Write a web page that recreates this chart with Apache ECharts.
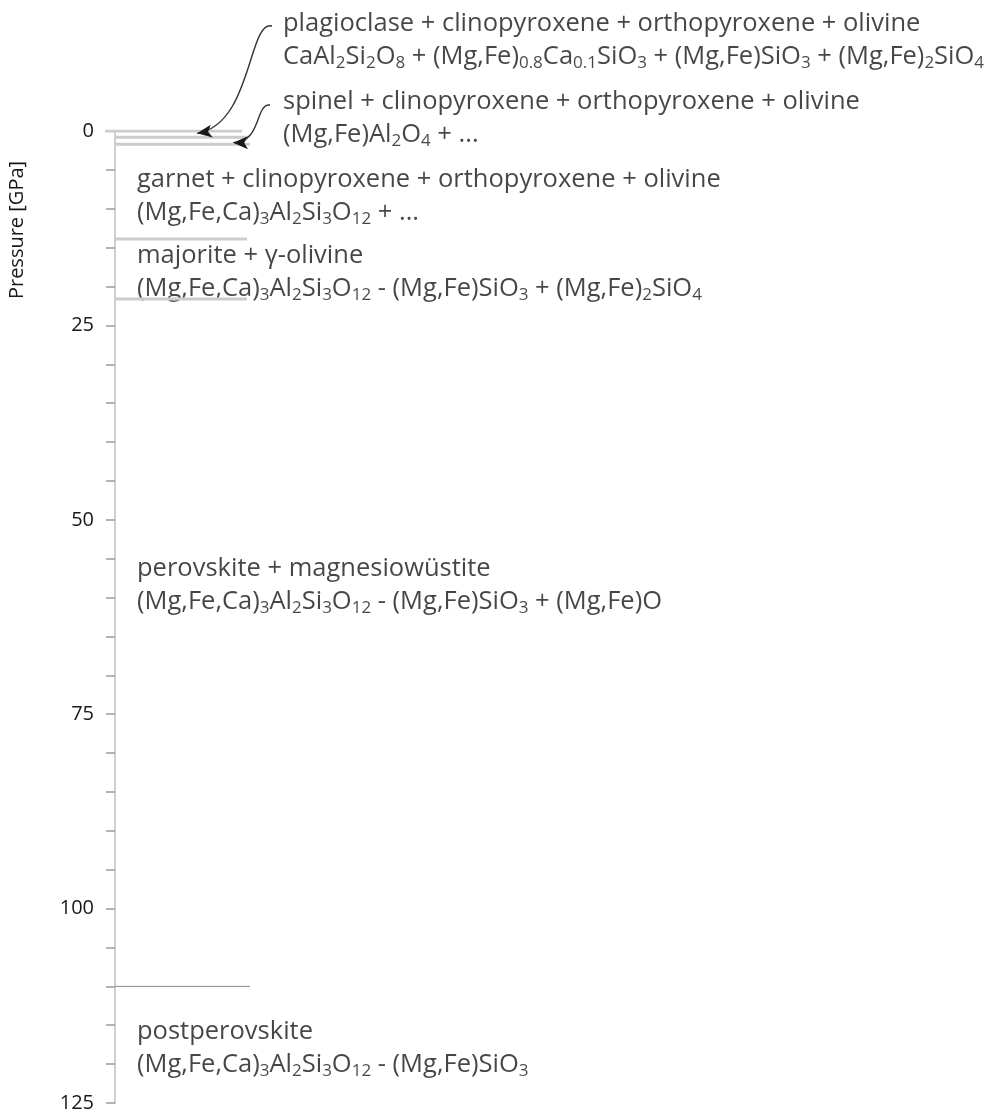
<!DOCTYPE html>
<html><head><meta charset="utf-8">
<script src="https://cdn.jsdelivr.net/npm/echarts@6/dist/echarts.min.js"></script>
<style>html,body{margin:0;padding:0;background:#fff}#c{width:1003px;height:1115px}</style>
</head><body><div id="c"></div>
<script>
// ---- data ----
const yTickValues = [0, 25, 50, 75, 100, 125];
const phaseBoundaries = [0, 0.8, 1.7, 13.9, 21.6];   // GPa, light gray lines
const deepBoundary = [110];                          // GPa, perovskite -> postperovskite
const phaseNames = [
  "plagioclase + clinopyroxene + orthopyroxene + olivine",
  "spinel + clinopyroxene + orthopyroxene + olivine",
  "garnet + clinopyroxene + orthopyroxene + olivine",
  "majorite + γ-olivine",
  "perovskite + magnesiowüstite",
  "postperovskite"
];
const phaseFormulas = [
  "CaAl_{2}Si_{2}O_{8} + (Mg,Fe)_{0.8}Ca_{0.1}SiO_{3} + (Mg,Fe)SiO_{3} + (Mg,Fe)_{2}SiO_{4}",
  "(Mg,Fe)Al_{2}O_{4} + ...",
  "(Mg,Fe,Ca)_{3}Al_{2}Si_{3}O_{12} + ...",
  "(Mg,Fe,Ca)_{3}Al_{2}Si_{3}O_{12} - (Mg,Fe)SiO_{3} + (Mg,Fe)_{2}SiO_{4}",
  "(Mg,Fe,Ca)_{3}Al_{2}Si_{3}O_{12} - (Mg,Fe)SiO_{3} + (Mg,Fe)O",
  "(Mg,Fe,Ca)_{3}Al_{2}Si_{3}O_{12} - (Mg,Fe)SiO_{3}"
];
const labelPressure = [-11.7, -1.6, 8.4, 18.1, 58.4, 117.9];
const arrowTipPressure = [0.3, 1.5];

// ---- layout ----
const FONT = "Open Sans";
const INK = "#1a1718";
const labelX = [168, 168, 22, 22, 22, 22];
const lineEnd = 132, deepLineEnd = 135;

function toRich(str) {
  let out = '', re = /_\{([^}]*)\}/g, last = 0, m;
  while ((m = re.exec(str))) {
    if (m.index > last) out += '{t|' + str.slice(last, m.index) + '}';
    out += '{s|' + m[1] + '}';
    last = re.lastIndex;
  }
  if (last < str.length) out += '{t|' + str.slice(last) + '}';
  return out;
}

const boundaryData = [];
phaseBoundaries.forEach((p, i) => {
  boundaryData.push([i === 0 ? -10 : 0, p], [i === 0 ? lineEnd - 5 : (i === 2 ? lineEnd + 3 : lineEnd), p], '-');
});
const deepData = [];
deepBoundary.forEach(p => { deepData.push([0, p], [deepLineEnd, p], '-'); });

const labelData = phaseNames.map((n, i) => ({
  value: [labelX[i], labelPressure[i]],
  label: { formatter: '{t|' + n + '}\n' + toRich(phaseFormulas[i]) }
}));

const chart = echarts.init(document.getElementById('c'));
chart.setOption({
  animation: false,
  backgroundColor: '#fff',
  grid: { left: 105, top: 131, width: 850, height: 972, containLabel: false },
  xAxis: { type: 'value', min: -10, max: 840, show: false },
  yAxis: {
    type: 'value', inverse: true, min: 0, max: 125, interval: 5,
    axisLine: { show: true, onZero: true, lineStyle: { color: '#d0d0d0', width: 2 } },
    axisTick: { show: true, length: 9, lineStyle: { color: '#9a9a9a', width: 1.5 } },
    splitLine: { show: false },
    axisLabel: {
      margin: 11, fontFamily: FONT, fontSize: 20, color: INK,
      formatter: v => (yTickValues.indexOf(v) >= 0 ? String(v) : '')
    }
  },
  series: [
    { type: 'line', data: boundaryData, symbol: 'none', connectNulls: false, silent: true,
      lineStyle: { color: '#cccccc', width: 3 }, z: 3 },
    { type: 'line', data: deepData, symbol: 'none', connectNulls: false, silent: true,
      lineStyle: { color: '#8a8a8a', width: 1 }, z: 3 },
    { type: 'scatter', data: labelData, symbolSize: 0, clip: false, silent: true,
      label: {
        show: true, position: 'right', distance: 0, align: 'left', verticalAlign: 'middle',
        rich: {
          t: { fontFamily: FONT, fontSize: 25.5, lineHeight: 33, color: INK, verticalAlign: 'middle' },
          s: { fontFamily: FONT, fontSize: 17, color: INK, verticalAlign: 'middle', padding: [13, 0, 0, 0] }
        }
      } }
  ]
});

// arrows (positions derived from axis scale)
function px(x, p) { return chart.convertToPixel({ xAxisIndex: 0, yAxisIndex: 0 }, [x, p]); }
const tip1 = px(82, arrowTipPressure[0]);
const tip2 = px(118, arrowTipPressure[1]);
const arrows = [
  { p0: [272, 26], p1: [248, 20], p2: [252, 125], p3: tip1 },
  { p0: [270, 105], p1: [255, 103], p2: [262, tip2[1]], p3: tip2 }
];
const graphics = [];
arrows.forEach(a => {
  graphics.push({
    type: 'bezierCurve', silent: true,
    shape: { x1: a.p0[0], y1: a.p0[1], cpx1: a.p1[0], cpy1: a.p1[1], cpx2: a.p2[0], cpy2: a.p2[1], x2: a.p3[0], y2: a.p3[1] },
    style: { stroke: '#333', lineWidth: 1.4, fill: null }
  });
  const dx = a.p3[0] - a.p2[0], dy = a.p3[1] - a.p2[1], L = Math.hypot(dx, dy);
  const ux = dx / L, uy = dy / L, len = 15, hw = 6.5;
  const bx = a.p3[0] - ux * len, by = a.p3[1] - uy * len;
  graphics.push({
    type: 'polygon', silent: true, z: 10,
    shape: { points: [[a.p3[0], a.p3[1]], [bx - uy * hw, by + ux * hw], [a.p3[0] - ux * len * 0.75, a.p3[1] - uy * len * 0.75], [bx + uy * hw, by - ux * hw]] },
    style: { fill: INK }
  });
});
graphics.push({
  type: 'text', x: 17, y: 230, rotation: Math.PI / 2, silent: true,
  style: { text: 'Pressure [GPa]', fontFamily: FONT, fontSize: 20, fill: INK, align: 'center', verticalAlign: 'middle' }
});
chart.setOption({ graphic: graphics });
</script>
</body></html>
